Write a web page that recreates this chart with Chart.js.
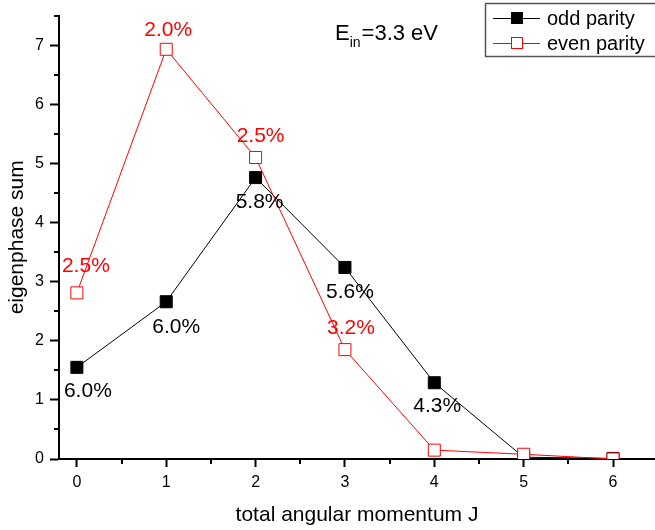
<!DOCTYPE html>
<html>
<head>
<meta charset="utf-8">
<script src="https://cdn.jsdelivr.net/npm/chart.js@4"></script>
<style>
    html, body { margin: 0; padding: 0; background: #fff; overflow: hidden; }
    #wrap { position: relative; width: 655px; height: 530px; }
</style>
</head>
<body>
<div id="wrap"><canvas id="chart"></canvas></div>
<script>
// --- Data ---
const momentumJ = [0, 1, 2, 3, 4, 5, 6];
const oddSum = [1.55, 2.66, 4.76, 3.24, 1.29, 0.03, 0.01];
const evenSum = [2.81, 6.93, 5.10, 1.85, 0.15, 0.08, 0.0];
const oddPercent = ['6.0%', '6.0%', '5.8%', '5.6%', '4.3%', '', ''];
const evenPercent = ['2.5%', '2.0%', '2.5%', '3.2%', '', '', ''];
const xMajorTicks = [0, 1, 2, 3, 4, 5, 6];
const xMinorTicks = [0.5, 1.5, 2.5, 3.5, 4.5, 5.5, 6.5];
const yMajorTicks = [0, 1, 2, 3, 4, 5, 6, 7];
const yMinorTicks = [0.5, 1.5, 2.5, 3.5, 4.5, 5.5, 6.5, 7.5];

const FONT = '"Liberation Sans", Arial, sans-serif';

// label offsets from each marker (px)
const oddLabelShift = [[11, 24], [10, 25], [4, 25], [5, 25], [3, 23]];
const evenLabelShift = [[9, -27], [2, -19], [5, -21], [6, -21]];

const toPoints = ys => momentumJ.map((j, i) => ({ x: j, y: ys[i] }));

// --- Plugins ---
const minorTicks = {
    id: 'minorTicks',
    afterDraw(chart) {
        const { ctx, chartArea, scales } = chart;
        ctx.save();
        ctx.strokeStyle = '#000';
        ctx.lineWidth = 2;
        xMinorTicks.forEach(v => {
            if (v < scales.x.min || v > scales.x.max) return;
            const px = Math.round(scales.x.getPixelForValue(v));
            ctx.beginPath();
            ctx.moveTo(px, chartArea.bottom);
            ctx.lineTo(px, chartArea.bottom + 5);
            ctx.stroke();
        });
        yMinorTicks.forEach(v => {
            if (v < scales.y.min || v > scales.y.max) return;
            const py = Math.round(scales.y.getPixelForValue(v));
            ctx.beginPath();
            ctx.moveTo(chartArea.left, py);
            ctx.lineTo(chartArea.left - 5, py);
            ctx.stroke();
        });
        ctx.restore();
    }
};

const percentLabels = {
    id: 'percentLabels',
    afterDatasetsDraw(chart) {
        const { ctx } = chart;
        const sets = [[0, oddPercent, oddLabelShift], [1, evenPercent, evenLabelShift]];
        ctx.save();
        ctx.font = '21px ' + FONT;
        ctx.textAlign = 'center';
        ctx.textBaseline = 'middle';
        sets.forEach(([idx, texts, shifts]) => {
            const meta = chart.getDatasetMeta(idx);
            ctx.fillStyle = chart.data.datasets[idx].borderColor;
            meta.data.forEach((pt, i) => {
                if (!texts[i]) return;
                const s = shifts[i] || [0, 0];
                ctx.fillText(texts[i], pt.x + s[0], pt.y + s[1]);
            });
        });
        ctx.restore();
    }
};

const extras = {
    id: 'extras',
    afterDraw(chart) {
        const { ctx } = chart;
        ctx.save();
        // energy note
        ctx.fillStyle = '#000';
        ctx.textBaseline = 'alphabetic';
        ctx.font = '22px ' + FONT;
        ctx.fillText('E', 335, 40);
        let x = 335 + ctx.measureText('E').width;
        ctx.font = '14px ' + FONT;
        ctx.fillText('in', x, 47);
        x += ctx.measureText('in').width + 1;
        ctx.font = '22px ' + FONT;
        ctx.fillText('=3.3 eV', x, 40);

        // legend box
        ctx.fillStyle = '#fff';
        ctx.fillRect(485, 3, 175, 53);
        ctx.strokeStyle = '#555';
        ctx.lineWidth = 1.5;
        ctx.strokeRect(485.5, 3.5, 175, 53);
        const rows = [18, 43];
        chart.data.datasets.forEach((ds, i) => {
            const y = rows[i];
            ctx.strokeStyle = ds.borderColor;
            ctx.lineWidth = 1;
            ctx.beginPath();
            ctx.moveTo(493, y + 0.5);
            ctx.lineTo(540, y + 0.5);
            ctx.stroke();
            ctx.fillStyle = ds.pointBackgroundColor;
            ctx.fillRect(511, y - 6, 12, 12);
            ctx.strokeStyle = ds.pointBorderColor;
            ctx.strokeRect(511.5, y - 5.5, 11, 11);
            ctx.fillStyle = '#000';
            ctx.font = '20px ' + FONT;
            ctx.textBaseline = 'middle';
            ctx.fillText(ds.label, 547, y + 1);
        });
        ctx.restore();
    }
};

// --- Chart ---
new Chart(document.getElementById('chart'), {
    type: 'line',
    data: {
        datasets: [{
            label: 'odd parity',
            data: toPoints(oddSum),
            borderColor: '#000000',
            borderWidth: 1,
            pointStyle: 'rect',
            pointRadius: 8.5,
            pointBorderWidth: 1,
            pointBackgroundColor: '#000000',
            pointBorderColor: '#000000',
            tension: 0,
            order: 1
        }, {
            label: 'even parity',
            data: toPoints(evenSum),
            borderColor: '#ff0000',
            borderWidth: 1,
            pointStyle: 'rect',
            pointRadius: 8.5,
            pointBorderWidth: 1,
            pointBackgroundColor: '#ffffff',
            pointBorderColor: '#ff0000',
            tension: 0,
            order: 0
        }]
    },
    options: {
        responsive: true,
        maintainAspectRatio: false,
        animation: false,
        layout: { autoPadding: false, padding: { top: 14, right: 0, left: 0, bottom: 0 } },
        plugins: {
            legend: { display: false },
            tooltip: { enabled: false }
        },
        scales: {
            x: {
                type: 'linear',
                min: -0.2,
                max: 6.47,
                z: 1,
                afterBuildTicks: s => { s.ticks = xMajorTicks.map(v => ({ value: v })); },
                afterFit: s => { s.height = 71; },
                border: { display: true, color: '#000', width: 2 },
                grid: { drawOnChartArea: false, drawTicks: true, tickLength: 8, tickWidth: 2, tickColor: '#000' },
                ticks: { color: '#000', padding: 6, maxRotation: 0, font: { family: FONT, size: 16 } },
                title: { display: true, text: 'total angular momentum J', color: '#000',
                         padding: { top: 0, bottom: 2.5 }, font: { family: FONT, size: 21 } }
            },
            y: {
                type: 'linear',
                min: 0,
                max: 7.5,
                z: 1,
                afterBuildTicks: s => { s.ticks = yMajorTicks.map(v => ({ value: v })); },
                afterFit: s => { s.width = 59; },
                border: { display: true, color: '#000', width: 2 },
                grid: { drawOnChartArea: false, drawTicks: true, tickLength: 9, tickWidth: 2, tickColor: '#000' },
                ticks: { color: '#000', padding: 6, font: { family: FONT, size: 16 } },
                title: { display: true, text: 'eigenphase sum', color: '#000',
                         padding: { top: 5, bottom: 0 }, font: { family: FONT, size: 21 } }
            }
        }
    },
    plugins: [minorTicks, percentLabels, extras]
});
</script>
</body>
</html>
